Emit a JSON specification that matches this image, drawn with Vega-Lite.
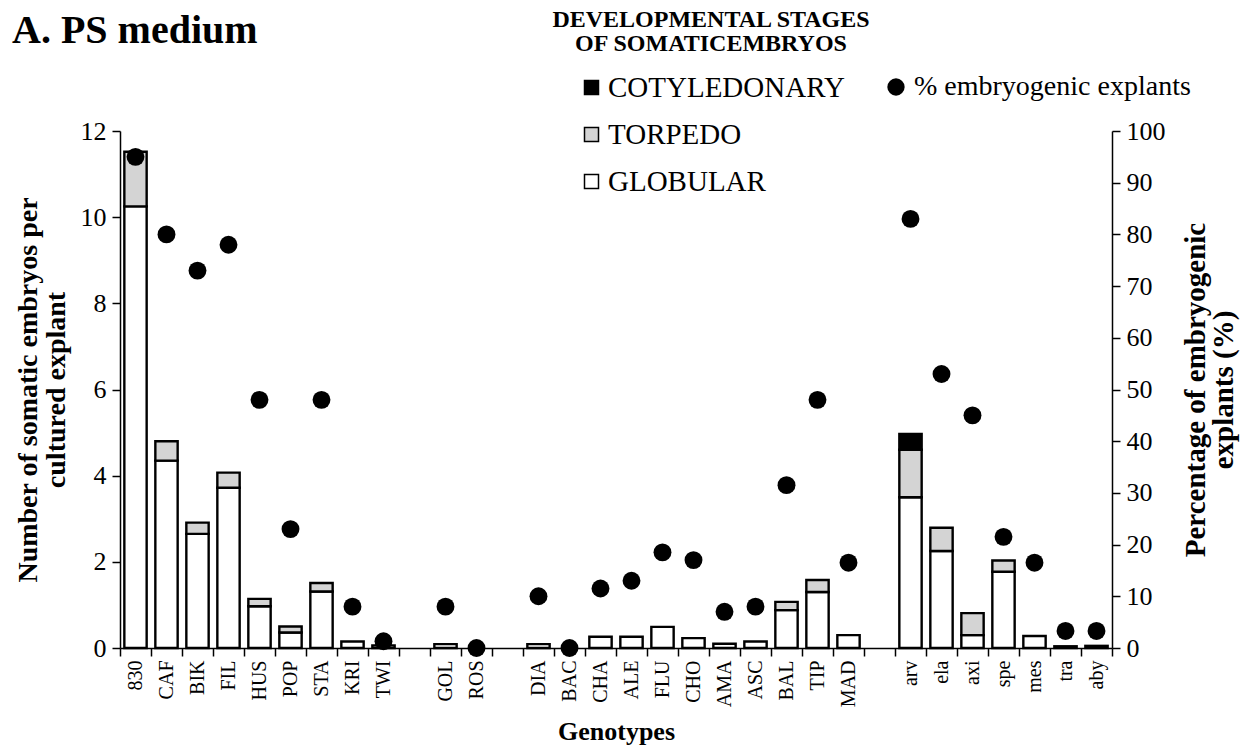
{
  "$schema": "https://vega.github.io/schema/vega-lite/v6.json",
  "width": 992,
  "height": 517,
  "autosize": {"type": "none"},
  "padding": {"left": 120, "top": 131, "right": 137, "bottom": 98},
  "background": "white",
  "config": {
    "font": "Liberation Serif",
    "view": {"stroke": null},
    "axis": {
      "labelColor": "black",
      "titleColor": "black",
      "domainColor": "black",
      "tickColor": "black",
      "domainWidth": 1.5,
      "tickWidth": 1.5,
      "grid": false,
      "labelFont": "Liberation Serif",
      "titleFont": "Liberation Serif"
    },
    "legend": {"labelColor": "black", "titleColor": "black", "labelFont": "Liberation Serif", "titleFont": "Liberation Serif", "labelLimit": 0, "titleLimit": 0}
  },
  "title": {
    "text": "A. PS medium",
    "anchor": "start",
    "frame": "group",
    "font": "Liberation Serif",
    "fontSize": 40,
    "fontWeight": "bold",
    "color": "black",
    "dx": -108,
    "dy": 47
  },
  "datasets": {
    "bars": [
      {"genotype": "830", "stage": "GLOBULAR", "n": 10.25, "ord": 1},
      {"genotype": "830", "stage": "TORPEDO", "n": 1.27, "ord": 2},
      {"genotype": "CAF", "stage": "GLOBULAR", "n": 4.35, "ord": 1},
      {"genotype": "CAF", "stage": "TORPEDO", "n": 0.45, "ord": 2},
      {"genotype": "BIK", "stage": "GLOBULAR", "n": 2.65, "ord": 1},
      {"genotype": "BIK", "stage": "TORPEDO", "n": 0.26, "ord": 2},
      {"genotype": "FIL", "stage": "GLOBULAR", "n": 3.72, "ord": 1},
      {"genotype": "FIL", "stage": "TORPEDO", "n": 0.35, "ord": 2},
      {"genotype": "HUS", "stage": "GLOBULAR", "n": 0.97, "ord": 1},
      {"genotype": "HUS", "stage": "TORPEDO", "n": 0.17, "ord": 2},
      {"genotype": "POP", "stage": "GLOBULAR", "n": 0.36, "ord": 1},
      {"genotype": "POP", "stage": "TORPEDO", "n": 0.14, "ord": 2},
      {"genotype": "STA", "stage": "GLOBULAR", "n": 1.31, "ord": 1},
      {"genotype": "STA", "stage": "TORPEDO", "n": 0.2, "ord": 2},
      {"genotype": "KRI", "stage": "GLOBULAR", "n": 0.15, "ord": 1},
      {"genotype": "TWI", "stage": "GLOBULAR", "n": 0.06, "ord": 1},
      {"genotype": "GOL", "stage": "GLOBULAR", "n": 0.09, "ord": 1},
      {"genotype": "DIA", "stage": "GLOBULAR", "n": 0.09, "ord": 1},
      {"genotype": "CHA", "stage": "GLOBULAR", "n": 0.26, "ord": 1},
      {"genotype": "ALE", "stage": "GLOBULAR", "n": 0.26, "ord": 1},
      {"genotype": "FLU", "stage": "GLOBULAR", "n": 0.49, "ord": 1},
      {"genotype": "CHO", "stage": "GLOBULAR", "n": 0.23, "ord": 1},
      {"genotype": "AMA", "stage": "GLOBULAR", "n": 0.1, "ord": 1},
      {"genotype": "ASC", "stage": "GLOBULAR", "n": 0.15, "ord": 1},
      {"genotype": "BAL", "stage": "GLOBULAR", "n": 0.88, "ord": 1},
      {"genotype": "BAL", "stage": "TORPEDO", "n": 0.19, "ord": 2},
      {"genotype": "TIP", "stage": "GLOBULAR", "n": 1.3, "ord": 1},
      {"genotype": "TIP", "stage": "TORPEDO", "n": 0.28, "ord": 2},
      {"genotype": "MAD", "stage": "GLOBULAR", "n": 0.3, "ord": 1},
      {"genotype": "arv", "stage": "GLOBULAR", "n": 3.5, "ord": 1},
      {"genotype": "arv", "stage": "TORPEDO", "n": 1.1, "ord": 2},
      {"genotype": "arv", "stage": "COTYLEDONARY", "n": 0.37, "ord": 3},
      {"genotype": "ela", "stage": "GLOBULAR", "n": 2.25, "ord": 1},
      {"genotype": "ela", "stage": "TORPEDO", "n": 0.54, "ord": 2},
      {"genotype": "axi", "stage": "GLOBULAR", "n": 0.3, "ord": 1},
      {"genotype": "axi", "stage": "TORPEDO", "n": 0.51, "ord": 2},
      {"genotype": "spe", "stage": "GLOBULAR", "n": 1.77, "ord": 1},
      {"genotype": "spe", "stage": "TORPEDO", "n": 0.26, "ord": 2},
      {"genotype": "mes", "stage": "GLOBULAR", "n": 0.28, "ord": 1},
      {"genotype": "tra", "stage": "GLOBULAR", "n": 0.04, "ord": 1},
      {"genotype": "aby", "stage": "GLOBULAR", "n": 0.05, "ord": 1}
    ],
    "pct": [
      {"genotype": "830", "pct": 95},
      {"genotype": "CAF", "pct": 80},
      {"genotype": "BIK", "pct": 73},
      {"genotype": "FIL", "pct": 78},
      {"genotype": "HUS", "pct": 48},
      {"genotype": "POP", "pct": 23},
      {"genotype": "STA", "pct": 48},
      {"genotype": "KRI", "pct": 8},
      {"genotype": "TWI", "pct": 1.3},
      {"genotype": "GOL", "pct": 8},
      {"genotype": "ROS", "pct": 0},
      {"genotype": "DIA", "pct": 10},
      {"genotype": "BAC", "pct": 0},
      {"genotype": "CHA", "pct": 11.5},
      {"genotype": "ALE", "pct": 13},
      {"genotype": "FLU", "pct": 18.5},
      {"genotype": "CHO", "pct": 17},
      {"genotype": "AMA", "pct": 7},
      {"genotype": "ASC", "pct": 8},
      {"genotype": "BAL", "pct": 31.5},
      {"genotype": "TIP", "pct": 48},
      {"genotype": "MAD", "pct": 16.5},
      {"genotype": "arv", "pct": 83},
      {"genotype": "ela", "pct": 53},
      {"genotype": "axi", "pct": 45},
      {"genotype": "spe", "pct": 21.5},
      {"genotype": "mes", "pct": 16.5},
      {"genotype": "tra", "pct": 3.3},
      {"genotype": "aby", "pct": 3.3}
    ]
  },
  "layer": [
    {
      "data": {"name": "bars"},
      "mark": {"type": "bar", "stroke": "black", "strokeWidth": 2.4, "width": {"band": 0.72}},
      "encoding": {
        "x": {
          "field": "genotype",
          "type": "nominal",
          "sort": null,
          "scale": {
            "domain": ["830", "CAF", "BIK", "FIL", "HUS", "POP", "STA", "KRI", "TWI", "gap1", "GOL", "ROS", "gap2", "DIA", "BAC", "CHA", "ALE", "FLU", "CHO", "AMA", "ASC", "BAL", "TIP", "MAD", "gap3", "arv", "ela", "axi", "spe", "mes", "tra", "aby"],
            "paddingInner": 0,
            "paddingOuter": 0
          },
          "axis": {
            "title": "Genotypes",
            "titleFontSize": 26,
            "titleFontWeight": "bold",
            "titlePadding": 12,
            "labelAngle": -90,
            "labelFontSize": 20,
            "labelPadding": 4,
            "tickSize": 8,
            "tickBand": "extent",
            "labelExpr": "indexof(datum.label, 'gap') == 0 ? '' : datum.label"
          }
        },
        "y": {
          "field": "n",
          "type": "quantitative",
          "stack": "zero",
          "scale": {"domain": [0, 12], "nice": false},
          "axis": {
            "orient": "left",
            "values": [0, 2, 4, 6, 8, 10, 12],
            "labelFontSize": 26,
            "tickSize": 8,
            "labelPadding": 6,
            "title": ["Number of somatic embryos per", "cultured explant"],
            "titleFontSize": 28,
            "titleFontWeight": "bold",
            "titleLineHeight": 28,
            "titlePadding": 10
          }
        },
        "fill": {
          "field": "stage",
          "type": "nominal",
          "scale": {"domain": ["COTYLEDONARY", "TORPEDO", "GLOBULAR"], "range": ["black", "#d4d4d4", "white"]},
          "legend": {
            "orient": "none",
            "legendX": 432,
            "legendY": -123,
            "padding": 0,
            "title": ["DEVELOPMENTAL STAGES", "OF SOMATICEMBRYOS"],
            "titleFontSize": 24,
            "titleFontWeight": "bold",
            "titleLineHeight": 24,
            "titleAnchor": "middle",
            "titleAlign": "center",
            "titlePadding": 17,
            "symbolType": "square",
            "symbolSize": 196,
            "symbolStrokeColor": "black",
            "symbolStrokeWidth": 1.5,
            "symbolOpacity": 1,
            "labelFontSize": 29,
            "labelOffset": 2,
            "rowPadding": 17
          }
        },
        "order": {"field": "ord", "type": "quantitative"}
      }
    },
    {
      "data": {"name": "pct"},
      "mark": {"type": "point", "filled": true, "color": "black", "size": 320, "opacity": 1},
      "encoding": {
        "x": {"field": "genotype", "type": "nominal", "sort": null},
        "y": {
          "field": "pct",
          "type": "quantitative",
          "scale": {"domain": [0, 100], "nice": false},
          "axis": {
            "orient": "right",
            "values": [0, 10, 20, 30, 40, 50, 60, 70, 80, 90, 100],
            "labelFontSize": 26,
            "tickSize": 8,
            "labelPadding": 6,
            "title": ["Percentage of embryogenic", "explants (%)"],
            "titleAngle": 270,
            "titleBaseline": "top",
            "titleFontSize": 29,
            "titleFontWeight": "bold",
            "titleLineHeight": 28,
            "titlePadding": -12
          }
        },
        "shape": {
          "datum": "% embryogenic explants",
          "scale": {"range": ["circle"]},
          "legend": {
            "orient": "none",
            "legendX": 762,
            "legendY": -58,
            "padding": 0,
            "title": null,
            "symbolSize": 300,
            "symbolFillColor": "black",
            "symbolStrokeColor": "black",
            "labelFontSize": 28,
            "labelOffset": 4
          }
        }
      }
    }
  ],
  "resolve": {"scale": {"y": "independent"}}
}
